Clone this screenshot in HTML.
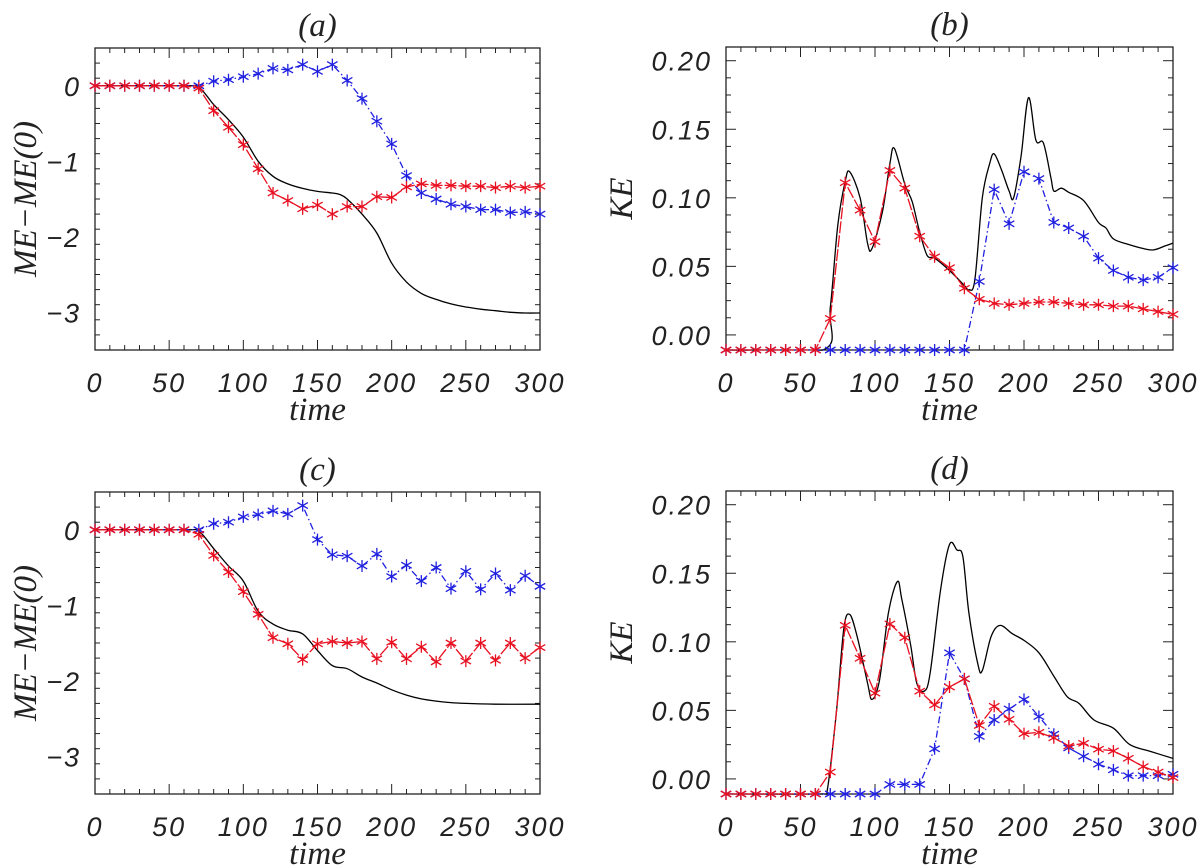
<!DOCTYPE html>
<html><head><meta charset="utf-8"><style>
html,body{margin:0;padding:0;background:#fff;}
svg{display:block;}
.tk{font-family:"Liberation Sans",sans-serif;font-style:italic;font-size:27px;letter-spacing:2px;fill:#222;}
.tt{font-family:"Liberation Serif",serif;font-style:italic;font-size:33px;fill:#222;}
</style></head><body>
<svg id="fig" width="1200" height="868" xmlns="http://www.w3.org/2000/svg"></svg>
<script>
// ---- data ----
const tStep = [0,10,20,30,40,50,60,70,80,90,100,110,120,130,140,150,160,170,180,190,200,210,220,230,240,250,260,270,280,290,300];
// panel a
const aRed  = [0,0,0,0,0,0,0,-0.03,-0.33,-0.55,-0.78,-1.1,-1.42,-1.52,-1.63,-1.58,-1.7,-1.6,-1.6,-1.47,-1.48,-1.34,-1.3,-1.32,-1.32,-1.33,-1.33,-1.35,-1.33,-1.35,-1.33];
const aBlue = [0,0,0,0,0,0,0,0,0.06,0.08,0.12,0.16,0.23,0.21,0.28,0.19,0.28,0.07,-0.17,-0.47,-0.77,-1.19,-1.42,-1.5,-1.57,-1.6,-1.64,-1.64,-1.68,-1.67,-1.7];
const aBlackT = [0,60,70,80,90,100,110,120,130,140,150,160,165,170,180,190,200,210,220,230,240,250,260,270,280,290,300];
const aBlack  = [0,0,-0.02,-0.25,-0.45,-0.68,-1.0,-1.2,-1.3,-1.36,-1.4,-1.42,-1.44,-1.5,-1.7,-1.95,-2.35,-2.6,-2.75,-2.83,-2.89,-2.93,-2.96,-2.98,-3.0,-3.01,-3.01];
// panel b
const bRed  = [-0.011,-0.011,-0.011,-0.011,-0.011,-0.011,-0.011,0.012,0.111,0.091,0.068,0.12,0.107,0.072,0.057,0.049,0.034,0.026,0.023,0.022,0.023,0.024,0.024,0.023,0.022,0.022,0.021,0.021,0.019,0.017,0.015];
const bBlue = [-0.011,-0.011,-0.011,-0.011,-0.011,-0.011,-0.011,-0.011,-0.011,-0.011,-0.011,-0.011,-0.011,-0.011,-0.011,-0.011,-0.011,0.039,0.106,0.081,0.119,0.114,0.082,0.078,0.072,0.056,0.047,0.042,0.040,0.042,0.049];
const bBlackT = [0,65,70,75,80,83,90,95,98,105,110,113,120,125,130,135,140,150,160,163,167,172,177,180,185,190,193,198,203,208,213,218,220,225,230,240,250,255,260,270,280,287,295,300];
const bBlack  = [-0.011,-0.011,0.02,0.08,0.112,0.119,0.1,0.067,0.063,0.09,0.125,0.136,0.11,0.097,0.075,0.058,0.056,0.047,0.036,0.033,0.04,0.1,0.125,0.132,0.12,0.105,0.1,0.13,0.173,0.142,0.14,0.115,0.105,0.107,0.104,0.098,0.082,0.078,0.07,0.066,0.063,0.062,0.065,0.067];
// panel c
const cRed  = [0,0,0,0,0,0,0,-0.06,-0.34,-0.56,-0.82,-1.12,-1.43,-1.51,-1.72,-1.51,-1.48,-1.5,-1.48,-1.71,-1.49,-1.71,-1.55,-1.75,-1.5,-1.74,-1.5,-1.73,-1.5,-1.7,-1.56];
const cBlue = [0,0,0,0,0,0,0,0,0.08,0.1,0.17,0.2,0.25,0.21,0.32,-0.13,-0.33,-0.35,-0.48,-0.32,-0.62,-0.47,-0.68,-0.5,-0.78,-0.55,-0.79,-0.58,-0.8,-0.61,-0.75];
const cBlackT = [0,60,70,80,90,100,110,120,130,140,150,160,170,180,190,200,210,220,230,240,250,270,300];
const cBlack  = [0,0,-0.02,-0.25,-0.48,-0.68,-1.08,-1.25,-1.33,-1.38,-1.6,-1.8,-1.84,-1.95,-2.03,-2.12,-2.19,-2.24,-2.27,-2.29,-2.3,-2.31,-2.31];
// panel d
const dRed  = [-0.011,-0.011,-0.011,-0.011,-0.011,-0.011,-0.011,0.005,0.112,0.088,0.0625,0.113,0.103,0.064,0.054,0.067,0.073,0.039,0.053,0.0435,0.033,0.034,0.030,0.024,0.026,0.0217,0.0204,0.015,0.009,0.005,0.001];
const dBlue = [-0.011,-0.011,-0.011,-0.011,-0.011,-0.011,-0.011,-0.011,-0.011,-0.011,-0.011,-0.004,-0.004,-0.004,0.022,0.092,0.073,0.031,0.043,0.051,0.058,0.0455,0.0326,0.0226,0.0165,0.0107,0.0066,0.0024,0.0024,0.0024,0.0034];
const dBlackT = [0,64,68,74,79,83,88,95,98,103,109,115,118,124,128,133,137,144,150,155,159,163,169,172,178,184,192,200,210,220,229,237,247,260,271,285,300];
const dBlack  = [-0.011,-0.011,-0.008,0.048,0.109,0.12,0.104,0.07,0.058,0.072,0.121,0.144,0.131,0.097,0.07,0.064,0.077,0.138,0.171,0.167,0.162,0.121,0.084,0.079,0.104,0.112,0.106,0.101,0.092,0.075,0.06,0.055,0.043,0.037,0.025,0.02,0.015];
const xTicks = [0,50,100,150,200,250,300];
const meTicks = [0,-1,-2,-3];
const meLabels = ["0","\u22121","\u22122","\u22123"];
const keTicks = [0,0.05,0.10,0.15,0.20];
const keLabels = ["0.00","0.05","0.10","0.15","0.20"];

const NS="http://www.w3.org/2000/svg";
const svg=document.getElementById('fig');
function mk(tag,attrs,parent){const e=document.createElementNS(NS,tag);for(const k in attrs)e.setAttribute(k,attrs[k]);(parent||svg).appendChild(e);return e;}
const defs=mk('defs',{});

function smoothPath(pts){
  let d='M'+pts[0][0].toFixed(1)+' '+pts[0][1].toFixed(1);
  for(let i=0;i<pts.length-1;i++){
    const p0=pts[Math.max(0,i-1)],p1=pts[i],p2=pts[i+1],p3=pts[Math.min(pts.length-1,i+2)];
    const c1x=p1[0]+(p2[0]-p0[0])/6,c1y=p1[1]+(p2[1]-p0[1])/6;
    const c2x=p2[0]-(p3[0]-p1[0])/6,c2y=p2[1]-(p3[1]-p1[1])/6;
    d+=`C${c1x.toFixed(1)} ${c1y.toFixed(1)} ${c2x.toFixed(1)} ${c2y.toFixed(1)} ${p2[0].toFixed(1)} ${p2[1].toFixed(1)}`;
  }
  return d;
}

function panel(o){
  const g=mk('g',{});
  
  
  const L=o.L,R=o.R,T=o.T,B=o.B;
  const cp=mk('clipPath',{id:'clip-'+o.name},defs);
  mk('rect',{x:L,y:T,width:R-L,height:B-T+0.7},cp);
  const xs=t=>L+(t-0)/300*(R-L);
  const ys=v=>Math.min(B,T+(o.ymax-v)/(o.ymax-o.ymin)*(B-T));
  const frame=mk('rect',{x:L,y:T,width:R-L,height:B-T,fill:'none',stroke:'#222','stroke-width':1.3},g);
  
  
  for(let t=0;t<=300;t+=10){
    const maj=t%50===0, len=maj?10:5;
    mk('line',{x1:xs(t),x2:xs(t),y1:B,y2:B-len,stroke:'#222','stroke-width':1},g);
    mk('line',{x1:xs(t),x2:xs(t),y1:T,y2:T+len,stroke:'#222','stroke-width':1},g);
  }
  xTicks.forEach(t=>{
    const tx=mk('text',{x:xs(t),y:B+42,'text-anchor':'middle',class:'tk'},g);
    tx.textContent=String(t);
    
    
  });
  for(let v=o.ymin0;v<=o.ymax+1e-9;v+=o.minor){
    const vv=Math.round(v*1e6)/1e6;
    const maj=Math.abs(vv/o.major-Math.round(vv/o.major))<1e-6, len=maj?10:5;
    if(ys(vv)<T-0.5||ys(vv)>B-0.5) continue;
    mk('line',{x1:L,x2:L+len,y1:ys(vv),y2:ys(vv),stroke:'#222','stroke-width':1},g);
    mk('line',{x1:R,x2:R-len,y1:ys(vv),y2:ys(vv),stroke:'#222','stroke-width':1},g);
  }
  o.yTicks.forEach((v,i)=>{
    const ty=mk('text',{x:L-14,y:ys(v)+10,'text-anchor':'end',class:'tk'},g);
    ty.textContent=o.yLabels[i];
    
    
  });
  const ti=mk('text',{x:(L+R)/2,y:T-12,'text-anchor':'middle',class:'tt'},g);
  ti.textContent=o.title;
  
  
  const xl=mk('text',{x:(L+R)/2,y:B+70,'text-anchor':'middle',class:'tt'},g);
  xl.textContent='time';
  
  
  const yl=mk('text',{x:o.ylx,y:(T+B)/2,'text-anchor':'middle',class:'tt',transform:`rotate(-90 ${o.ylx} ${(T+B)/2})`},g);
  yl.textContent=o.ylabel;
  
  
  function line(ts,vs,color,dash,name,smooth){
    const pts=ts.map((t,i)=>[xs(t),ys(vs[i])]);
    const d=smooth?smoothPath(pts):pts.map((p,i)=>(i?'L':'M')+p[0].toFixed(1)+' '+p[1].toFixed(1)).join(' ');
    const p=mk('path',{d:d,fill:'none',stroke:color,'stroke-width':1.3,'stroke-dasharray':dash,'clip-path':`url(#clip-${o.name})`},g);
    
    
  }
  function stars(ts,vs,color,name){
    ts.forEach((t,i)=>{
      const x=xs(t),y=ys(vs[i]),r=6;
      const s=mk('path',{d:`M${x} ${y-r}L${x} ${y+r}M${x-r*0.87} ${y-r*0.5}L${x+r*0.87} ${y+r*0.5}M${x-r*0.87} ${y+r*0.5}L${x+r*0.87} ${y-r*0.5}`,stroke:color,'stroke-width':1.3,fill:'none'},g);
      
      
    });
  }
  line(o.bt,o.black,'#000','none','black-curve',true);
  line(tStep,o.blue,'#2020e0','7,3,1.5,3','blue-curve',false);
  stars(tStep,o.blue,'#2020e0','blue-marker');
  line(tStep,o.red,'#e81020','12,2','red-curve',false);
  stars(tStep,o.red,'#e81020','red-marker');
}
panel({name:'panel-a',L:95,R:540,T:48,B:350,ymin:-3.5,ymax:0.5,ymin0:-3.5,minor:0.2,major:1,yTicks:meTicks,yLabels:meLabels,title:'(a)',ylabel:'ME\u2212ME(0)',ylx:36,red:aRed,blue:aBlue,bt:aBlackT,black:aBlack});
panel({name:'panel-b',L:726,R:1173,T:47,B:350,ymin:-0.011,ymax:0.21,ymin0:0,minor:0.0125,major:0.05,yTicks:keTicks,yLabels:keLabels,title:'(b)',ylabel:'KE',ylx:632,red:bRed,blue:bBlue,bt:bBlackT,black:bBlack});
panel({name:'panel-c',L:95,R:540,T:492,B:794,ymin:-3.5,ymax:0.5,ymin0:-3.5,minor:0.2,major:1,yTicks:meTicks,yLabels:meLabels,title:'(c)',ylabel:'ME\u2212ME(0)',ylx:36,red:cRed,blue:cBlue,bt:cBlackT,black:cBlack});
panel({name:'panel-d',L:726,R:1173,T:491,B:794,ymin:-0.011,ymax:0.21,ymin0:0,minor:0.0125,major:0.05,yTicks:keTicks,yLabels:keLabels,title:'(d)',ylabel:'KE',ylx:632,red:dRed,blue:dBlue,bt:dBlackT,black:dBlack});
</script>
</body></html>
